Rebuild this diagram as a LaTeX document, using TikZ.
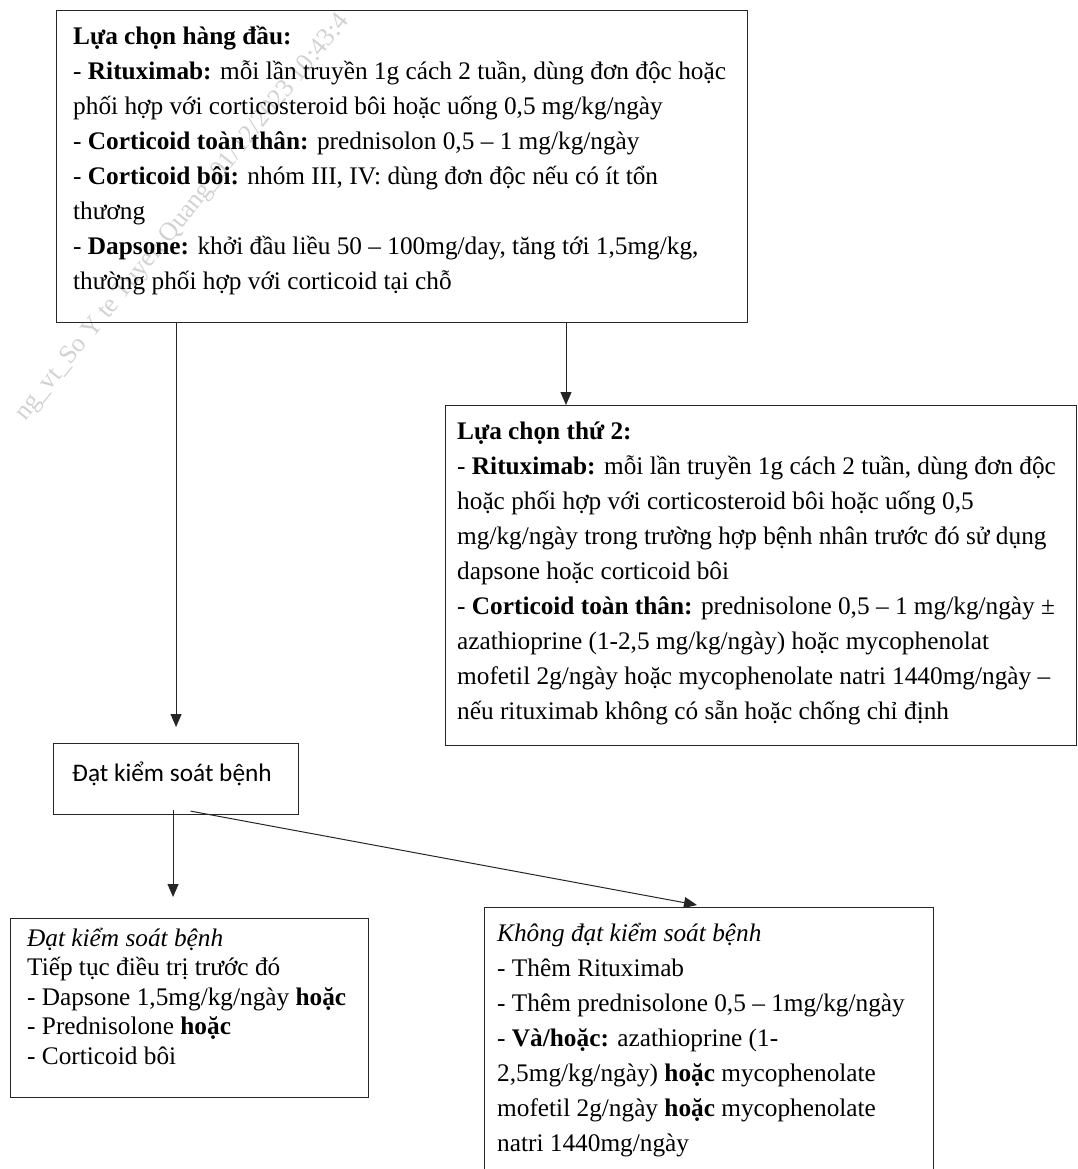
\documentclass[tikz,border=0pt]{standalone}
\usepackage{fontspec}
\setmainfont{Liberation Serif}
\newfontfamily\calibrifont{Carlito}
\usetikzlibrary{arrows.meta, calc}

\begin{document}
\begin{tikzpicture}[
  x=1pt, y=-1pt,
  box/.style={
    rectangle, draw=black!85, line width=1.1pt,
    anchor=north west, inner sep=0pt
  },
  txt/.style={
    anchor=base west, align=left, inner sep=0pt,
    font=\fontsize{25.3}{35}\selectfont
  },
  tighttxt/.style={txt, font=\fontsize{25.3}{29.5}\selectfont},
  sanstxt/.style={txt, font=\calibrifont\fontsize{25.3}{30}\selectfont},
  arr/.style={-{Triangle[length=13pt,width=11pt]}, line width=1pt, black!85},
  wmark/.style={
    font=\fontsize{26}{26}\selectfont, text=gray!35,
    rotate=51, inner sep=0pt
  }
]
\useasboundingbox (0,0) rectangle (1077,1169);

%% ── Dấu mờ ────────────────────────────────────────────────────────────────
\node[wmark] (wm) at (183,218) {ng\_vt\_So Y te Tuyen Quang\_01/12/2023 10:43:4};

%% ── Khung ─────────────────────────────────────────────────────────────────
\node[box, minimum width=691pt, minimum height=312pt] (first)  at (56,10)  {};
\node[box, minimum width=631pt, minimum height=340pt] (second) at (445,405) {};
\node[box, minimum width=245pt, minimum height=71pt]  (ctrl)   at (53,743)  {};
\node[box, minimum width=358pt, minimum height=179pt] (stay)   at (10,918)  {};
\node[box, minimum width=449pt, minimum height=300pt] (fail)   at (484,907) {};

%% ── Nội dung (mốc = dòng cuối) ────────────────────────────────────────────
\node[txt] (firsttxt) at ($(first.north west)+(17,279)$) {%
  \textbf{Lựa chọn hàng đầu:}\\
  - \textbf{Rituximab:} mỗi lần truyền 1g cách 2 tuần, dùng đơn độc hoặc\\
  phối hợp với corticosteroid bôi hoặc uống 0,5 mg/kg/ngày\\
  - \textbf{Corticoid toàn thân:} prednisolon 0,5 – 1 mg/kg/ngày\\
  - \textbf{Corticoid bôi:} nhóm III, IV: dùng đơn độc nếu có ít tổn\\
  thương\\
  - \textbf{Dapsone:} khởi đầu liều 50 – 100mg/day, tăng tới 1,5mg/kg,\\
  thường phối hợp với corticoid tại chỗ};
\node[txt] (secondtxt) at ($(second.north west)+(12,314)$) {%
  \textbf{Lựa chọn thứ 2:}\\
  - \textbf{Rituximab:} mỗi lần truyền 1g cách 2 tuần, dùng đơn độc\\
  hoặc phối hợp với corticosteroid bôi hoặc uống 0,5\\
  mg/kg/ngày trong trường hợp bệnh nhân trước đó sử dụng\\
  dapsone hoặc corticoid bôi\\
  - \textbf{Corticoid toàn thân:} prednisolone 0,5 – 1 mg/kg/ngày ±\\
  azathioprine (1-2,5 mg/kg/ngày) hoặc mycophenolat\\
  mofetil 2g/ngày hoặc mycophenolate natri 1440mg/ngày –\\
  nếu rituximab không có sẵn hoặc chống chỉ định};
\node[sanstxt] (ctrltxt) at ($(ctrl.north west)+(19,38)$) {Đạt kiểm soát bệnh};
\node[tighttxt] (staytxt) at ($(stay.north west)+(17,146)$) {%
  \textit{Đạt kiểm soát bệnh}\\
  Tiếp tục điều trị trước đó\\
  - Dapsone 1,5mg/kg/ngày \textbf{hoặc}\\
  - Prednisolone \textbf{hoặc}\\
  - Corticoid bôi};
\node[txt] (failtxt) at ($(fail.north west)+(13,244)$) {%
  \textit{Không đạt kiểm soát bệnh}\\
  - Thêm Rituximab\\
  - Thêm prednisolone 0,5 – 1mg/kg/ngày\\
  - \textbf{Và/hoặc:} azathioprine (1-\\
  2,5mg/kg/ngày) \textbf{hoặc} mycophenolate\\
  mofetil 2g/ngày \textbf{hoặc} mycophenolate\\
  natri 1440mg/ngày};

%% ── Mũi tên ───────────────────────────────────────────────────────────────
\coordinate (secin) at ($(second.north west)+(121,0)$);
\draw[arr, shorten >=16pt] (first.south -| ctrl.north) -- (ctrl.north);
\draw[arr] (first.south -| secin) -- (secin);
\draw[arr, shorten >=21pt] ($(ctrl.south)+(-3,-5)$) -- ($(ctrl.south |- stay.north)+(-3,0)$);
\draw[arr] ($(ctrl.south)+(14.5,-4)$) -- ($(fail.north west)+(213,-2)$);

\end{tikzpicture}
\end{document}
